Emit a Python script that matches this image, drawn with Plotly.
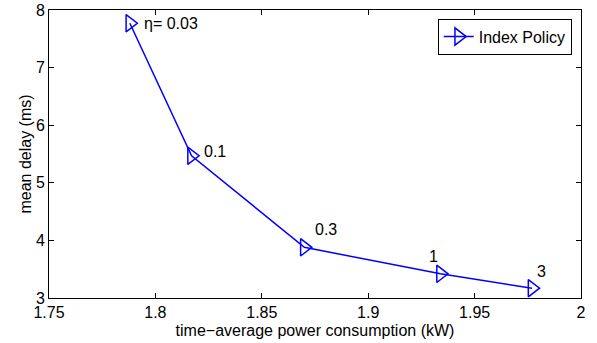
import plotly.graph_objects as go

power_kw = [1.788, 1.817, 1.870, 1.934, 1.977]
delay_ms = [7.77, 5.47, 3.88, 3.42, 3.17]
eta_labels = ["η= 0.03", "0.1", "0.3", "1", "3"]
series_name = "Index Policy"
x_ticks = [1.75, 1.8, 1.85, 1.9, 1.95, 2]
x_tick_text = ["1.75", "1.8", "1.85", "1.9", "1.95", "2"]
y_ticks = [3, 4, 5, 6, 7, 8]

label_offsets = [(12, 0, "left"), (10, 4, "left"), (22, 18, "center"), (-7, 17, "center"), (9, 17, "center")]

FONT = "Liberation Sans, Arial, sans-serif"
BLUE = "#0000ff"

fig = go.Figure()
fig.add_trace(go.Scatter(
    x=power_kw, y=delay_ms, mode="lines+markers", name=series_name,
    line=dict(color=BLUE, width=1.5),
    marker=dict(symbol="triangle-right-open", size=15, color=BLUE, line=dict(width=1.5, color=BLUE)),
))

for xv, yv, txt, (dx, dy, anc) in zip(power_kw, delay_ms, eta_labels, label_offsets):
    fig.add_annotation(x=xv, y=yv, text=txt, showarrow=False, xanchor=anc, yanchor="middle",
                       xshift=dx, yshift=dy, font=dict(family=FONT, size=16, color="black"))

axis_common = dict(showgrid=False, zeroline=False, showline=True, linecolor="black", linewidth=1,
                   mirror="ticks", ticks="inside", ticklen=5, tickcolor="black", automargin=False,
                   tickfont=dict(family=FONT, size=16, color="black"))

fig.update_layout(
    width=597, height=343,
    margin=dict(l=49, r=16, t=10, b=45, autoexpand=False),
    paper_bgcolor="white", plot_bgcolor="white",
    font=dict(family=FONT, size=16, color="black"),
    xaxis=dict(range=[1.75, 2], tickvals=x_ticks, ticktext=x_tick_text,
               title=dict(text="time−average power consumption (kW)", font=dict(family=FONT, size=16), standoff=4),
               **axis_common),
    yaxis=dict(range=[3, 8], tickvals=y_ticks,
               title=dict(text="mean delay (ms)", font=dict(family=FONT, size=16), standoff=0),
               **axis_common),
    legend=dict(x=0.9825, y=0.97, xanchor="right", yanchor="top", bordercolor="black", borderwidth=1,
                bgcolor="white", font=dict(family=FONT, size=16), itemwidth=30),
    showlegend=True,
)

fig.write_html("out.html", config={"displayModeBar": False},
               post_script="document.body.style.margin='0';document.body.style.overflow='hidden';")
